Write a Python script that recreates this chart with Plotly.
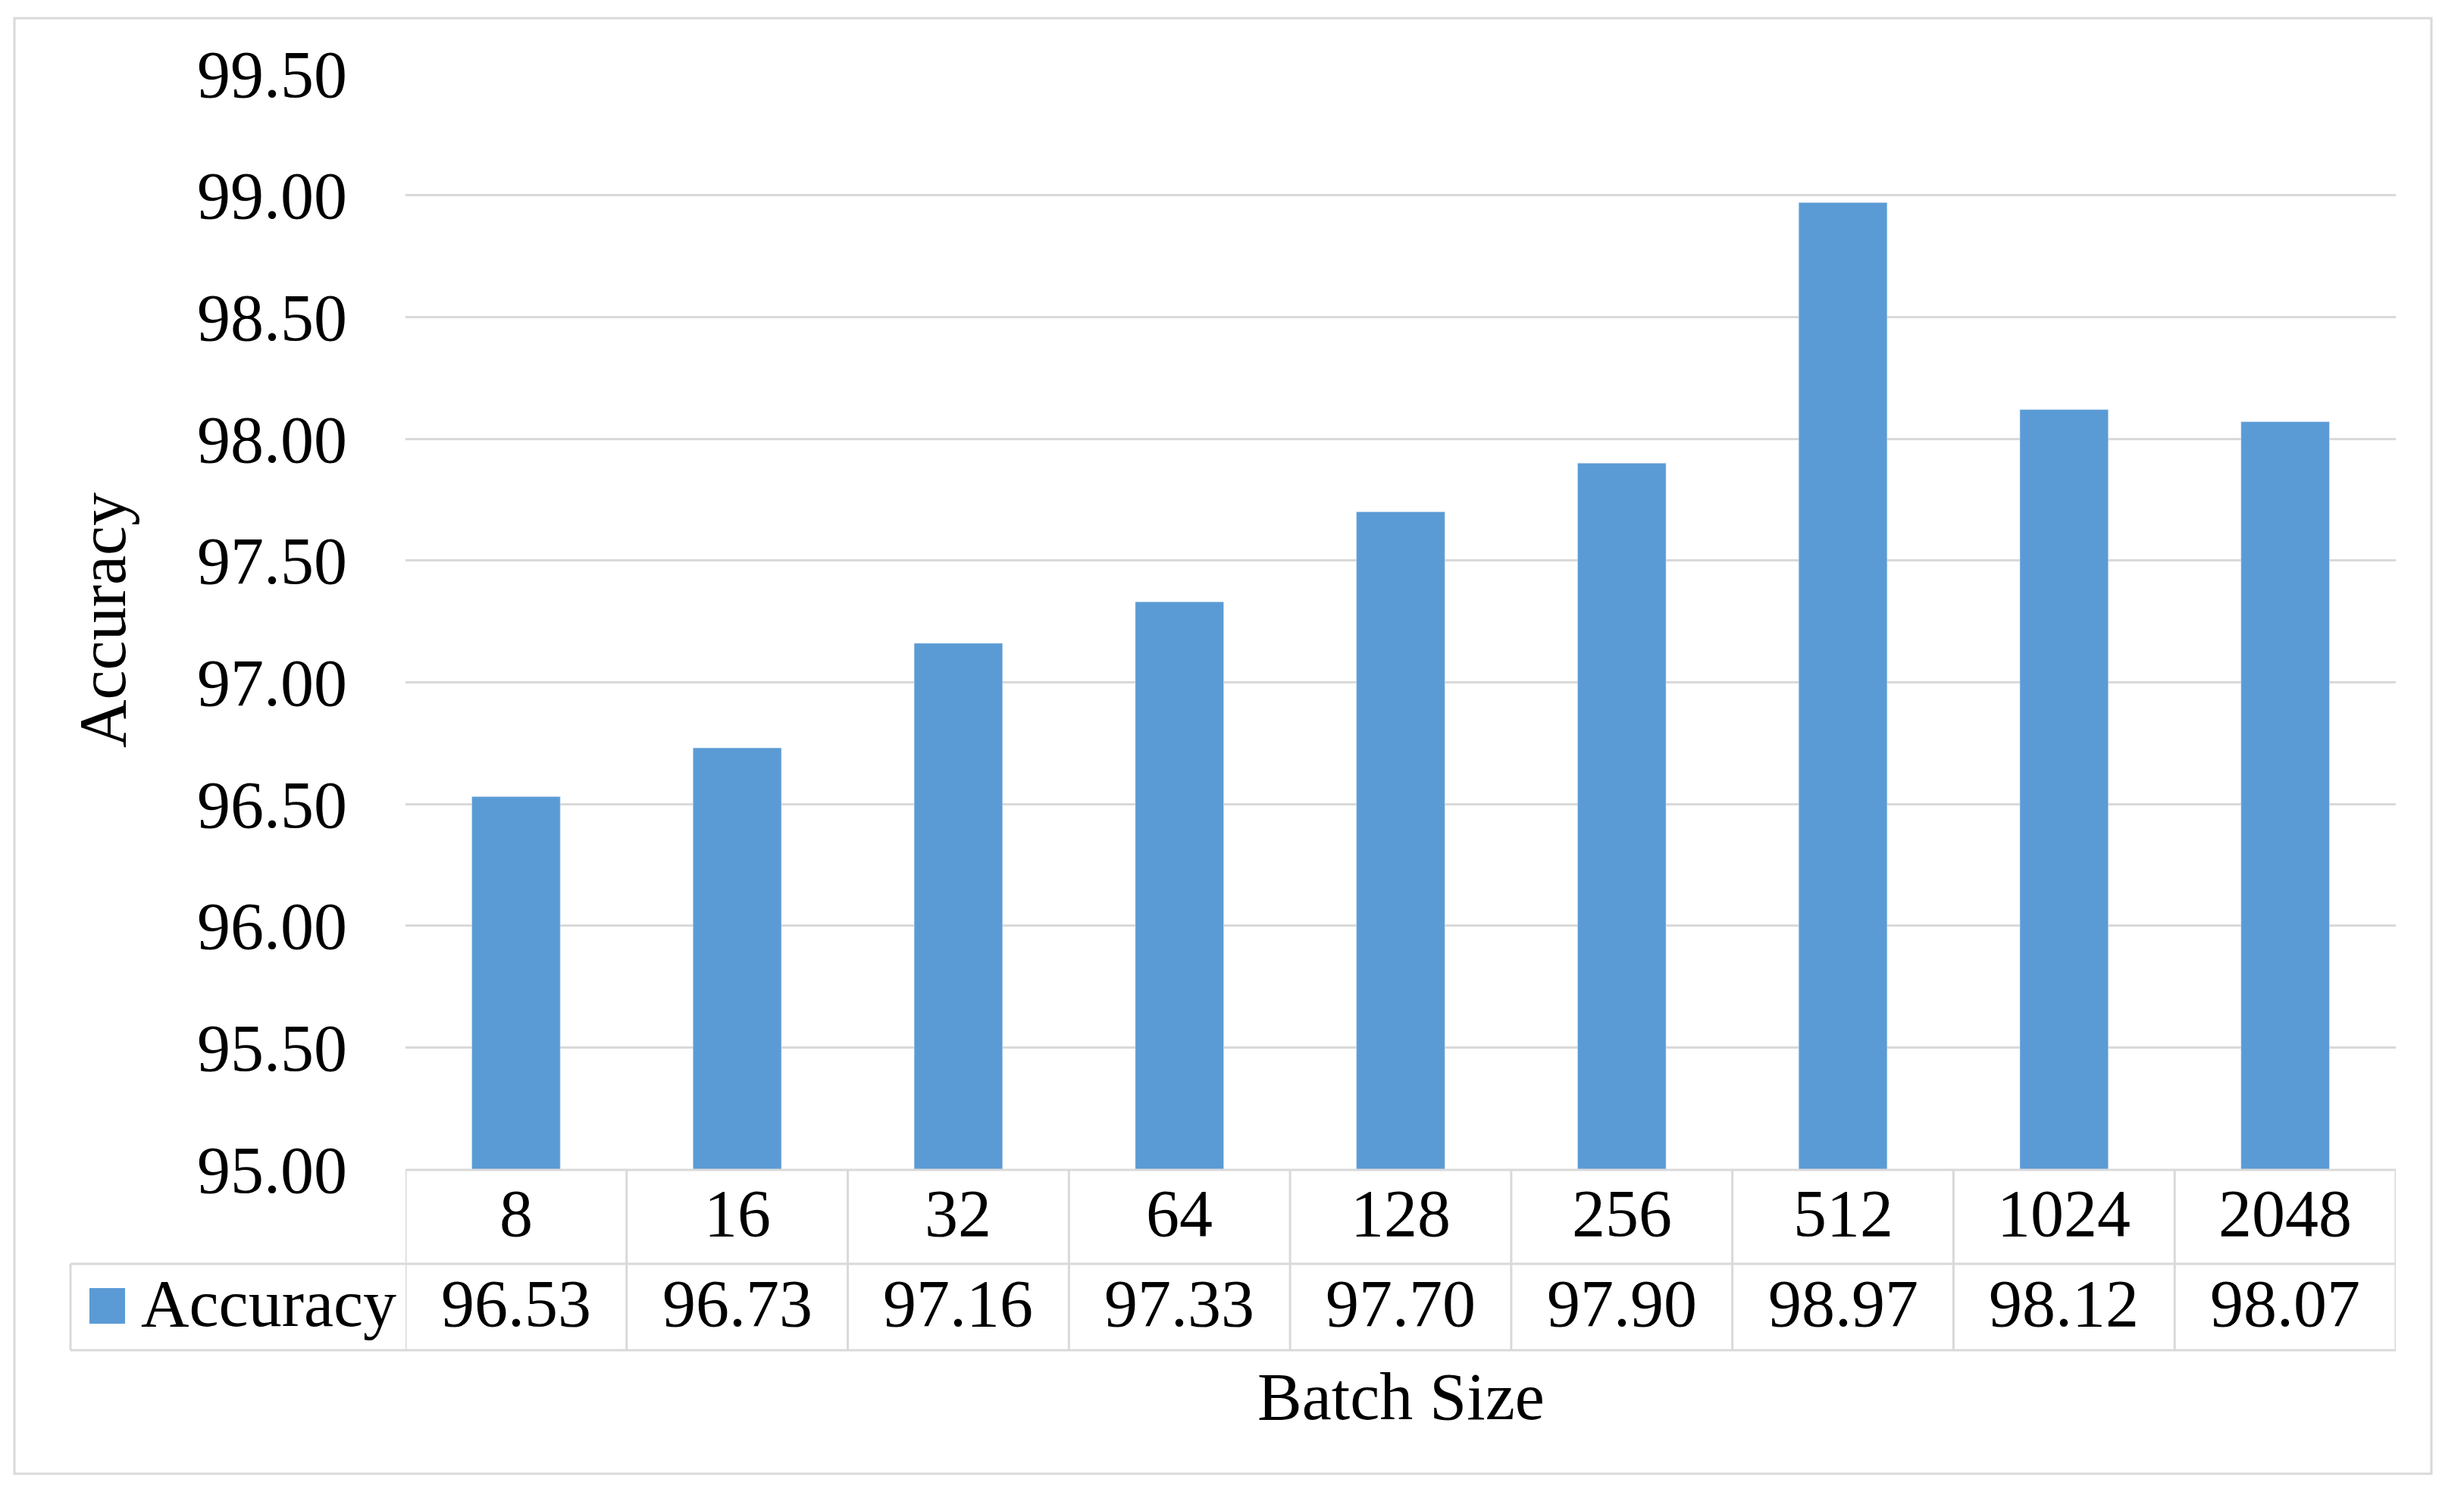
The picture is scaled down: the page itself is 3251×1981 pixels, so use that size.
import plotly.graph_objects as go

categories = ["8", "16", "32", "64", "128", "256", "512", "1024", "2048"]
accuracy = [96.53, 96.73, 97.16, 97.33, 97.70, 97.90, 98.97, 98.12, 98.07]
series_name = "Accuracy"
x_title = "Batch Size"
y_title = "Accuracy"

W, H = 3251, 1981
ML, MR, MT, MB = 535, 90, 97, 438
PW = W - ML - MR
PH = H - MT - MB

BAR = "#5B9BD5"
GRID = "#D9D9D9"
FONT = "Liberation Serif, Times New Roman, serif"
FS = 88


def px(xp):
    return (xp - ML) / PW


def py(yp):
    return (H - MB - yp) / PH


fig = go.Figure()
fig.add_trace(go.Bar(x=categories, y=accuracy, marker_color=BAR, name=series_name,
                     showlegend=False))

n = len(categories)
row1_top, row_mid, row2_bot = 1544, 1668, 1782
table_left = 93
text_shift = -5

shapes = []
line = dict(color=GRID, width=3)
# horizontal table lines
shapes.append(dict(type="line", xref="paper", yref="paper", x0=0, x1=1,
                   y0=py(row1_top), y1=py(row1_top), line=line))
shapes.append(dict(type="line", xref="paper", yref="paper", x0=px(table_left), x1=1,
                   y0=py(row_mid), y1=py(row_mid), line=line))
shapes.append(dict(type="line", xref="paper", yref="paper", x0=px(table_left), x1=1,
                   y0=py(row2_bot), y1=py(row2_bot), line=line))
# vertical table lines
for i in range(n + 1):
    xv = i - 0.5
    shapes.append(dict(type="line", xref="x", yref="paper", x0=xv, x1=xv,
                       y0=py(row1_top), y1=py(row2_bot), line=line))
shapes.append(dict(type="line", xref="paper", yref="paper", x0=px(table_left), x1=px(table_left),
                   y0=py(row_mid), y1=py(row2_bot), line=line))
# legend key
shapes.append(dict(type="rect", xref="paper", yref="paper", x0=px(118), x1=px(165),
                   y0=py(1747), y1=py(1700), fillcolor=BAR, line=dict(width=0)))
# outer border
shapes.append(dict(type="rect", xref="paper", yref="paper", x0=px(19), x1=px(3208),
                   y0=py(24), y1=py(1945), line=dict(color=GRID, width=3), layer="below"))

annotations = []
r1 = (row1_top + row_mid) / 2 + text_shift
r2 = (row_mid + row2_bot) / 2 + text_shift
for i, (c, v) in enumerate(zip(categories, accuracy)):
    annotations.append(dict(x=i, xref="x", y=py(r1), yref="paper",
                            text=c, showarrow=False, font=dict(size=FS, color="black", family=FONT),
                            xanchor="center", yanchor="middle"))
    annotations.append(dict(x=i, xref="x", y=py(r2), yref="paper",
                            text=f"{v:.2f}", showarrow=False, font=dict(size=FS, color="black", family=FONT),
                            xanchor="center", yanchor="middle"))
annotations.append(dict(x=px(184), xref="paper", y=py(r2), yref="paper",
                        text=series_name, showarrow=False, font=dict(size=FS, color="black", family=FONT),
                        xanchor="left", yanchor="middle"))
annotations.append(dict(x=0.5, xref="paper", y=py(1843), yref="paper", text=x_title,
                        showarrow=False, font=dict(size=FS, color="black", family=FONT),
                        xanchor="center", yanchor="middle"))
annotations.append(dict(x=px(135), xref="paper", y=py(819), yref="paper", text=y_title,
                        textangle=-90, showarrow=False, font=dict(size=FS, color="black", family=FONT),
                        xanchor="center", yanchor="middle"))

fig.update_layout(
    width=W, height=H,
    margin=dict(l=ML, r=MR, t=MT, b=MB, pad=0),
    paper_bgcolor="white", plot_bgcolor="white",
    bargap=0.60,
    font=dict(family=FONT, size=FS, color="black"),
    shapes=shapes,
    annotations=annotations,
    xaxis=dict(showticklabels=False, showgrid=False, zeroline=False, showline=False,
               ticks="", range=[-0.5, n - 0.5]),
    yaxis=dict(range=[95, 99.5], dtick=0.5, tick0=95, tickformat=".2f",
               showgrid=True, gridcolor=GRID, gridwidth=3, zeroline=False,
               showline=False, ticks="", ticklabelstandoff=76,
               tickfont=dict(size=FS, color="black", family=FONT)),
)

fig.write_html("out.html", config={"displayModeBar": False},
               post_script="document.body.style.margin='0';")
